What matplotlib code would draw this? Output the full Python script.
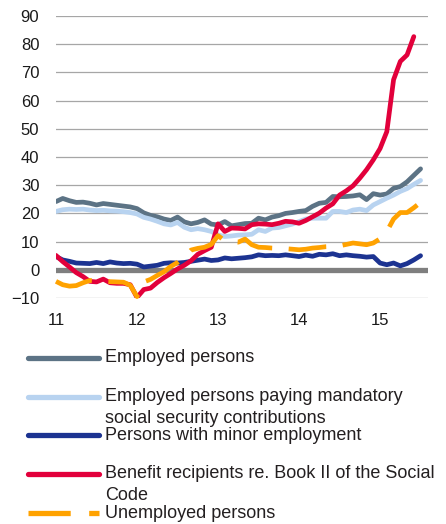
import matplotlib
matplotlib.use('Agg')
import matplotlib.pyplot as plt
from matplotlib.lines import Line2D
import numpy as np

plt.rcParams['font.family'] = ['Liberation Sans', 'DejaVu Sans']

# monthly values, Jan 2011 onwards (% change)
employed = [24.2, 25.3, 24.5, 23.9, 24.0, 23.6, 23.0, 23.5, 23.2, 22.9, 22.6, 22.3,
            21.7, 20.2, 19.3, 18.8, 18.0, 17.5, 18.7, 17.0, 16.3, 16.8, 17.7, 16.2,
            15.9, 17.1, 15.6, 16.0, 16.4, 16.5, 18.3, 17.7, 18.7, 19.2, 20.0, 20.3,
            20.7, 21.0, 22.5, 23.6, 23.9, 26.0, 25.9, 26.0, 26.2, 26.6, 24.9, 27.0,
            26.5, 26.9, 28.9, 29.5, 31.2, 33.5, 35.8]
employed_ssc = [20.7, 21.3, 21.5, 21.4, 21.5, 21.2, 21.0, 21.1, 20.9, 20.8, 20.6, 20.3,
                19.8, 18.6, 18.0, 17.2, 16.3, 15.9, 16.8, 15.1, 14.2, 14.6, 14.2, 13.6,
                12.4, 11.8, 12.0, 12.3, 12.4, 12.6, 14.2, 13.6, 14.8, 15.0, 15.6, 16.2,
                17.1, 18.0, 18.3, 18.3, 18.3, 20.7, 20.7, 20.3, 21.2, 21.5, 21.0, 23.0,
                24.2, 25.4, 26.5, 27.8, 28.8, 30.3, 31.7]
minor = [4.7, 3.5, 3.0, 2.4, 2.3, 2.2, 2.6, 2.2, 2.8, 2.4, 2.2, 2.3,
         2.0, 1.0, 1.3, 1.6, 2.3, 2.5, 2.4, 2.6, 3.0, 3.4, 3.8, 3.3,
         3.5, 4.2, 3.9, 4.1, 4.3, 4.6, 5.3, 5.0, 5.1, 5.0, 5.3, 5.0,
         4.7, 5.2, 4.8, 5.5, 5.3, 5.7, 5.0, 5.3, 5.0, 4.8, 4.5, 4.7,
         2.4, 1.8, 2.4, 1.4, 2.2, 3.5, 5.0]
benefit = [5.1, 2.9, 1.0, -1.0, -2.4, -4.1, -4.3, -3.3, -4.6, -4.8, -4.8, -5.3,
           -9.8, -7.0, -6.5, -4.5, -2.8, -1.3, 0.3, 1.6, 3.2, 5.5, 6.8, 8.0,
           16.3, 13.6, 14.8, 14.7, 14.5, 16.0, 16.3, 16.2, 16.0, 16.5, 17.2, 17.0,
           16.5, 17.5, 18.8, 20.1, 21.9, 23.4, 26.5, 28.0, 29.8, 32.5, 35.5, 39.0,
           43.0, 49.0, 67.4, 73.9, 76.2, 82.7]
unemployed = [-4.1, -5.3, -5.8, -5.6, -4.6, -3.8, -4.0, -4.1, -4.2, -4.3, -4.4, -5.5,
              -9.5, -4.3, -3.4, -2.0, -0.7, 1.2, 2.6, 4.5, 7.0, 7.6, 8.0, 9.0,
              12.1, 10.3, 10.0, 9.8, 10.9, 8.9, 8.0, 7.9, 7.7, 7.6, 7.5, 7.3,
              7.1, 7.3, 7.7, 7.9, 8.2, 8.3, 8.5, 9.0, 9.5, 9.2, 8.9, 9.5,
              11.0, 13.6, 18.0, 20.3, 20.3, 22.0, 23.9, 25.4]

year_ticks = [0, 12, 24, 36, 48]
year_labels = ['11', '12', '13', '14', '15']

labels = ['Employed persons',
          'Employed persons paying mandatory\nsocial security contributions',
          'Persons with minor employment',
          'Benefit recipients re. Book II of the Social\nCode',
          'Unemployed persons']
colors = ['#5c7385', '#b8d3f0', '#1c3391', '#e2003b', '#ffa200']
series = [employed, employed_ssc, minor, benefit, unemployed]

W, H = 446, 524
fig = plt.figure(figsize=(W / 100, H / 100), dpi=100)
ax = fig.add_axes([56 / W, 1 - 298 / H, (428 - 56) / W, (298 - 16) / H])

ax.set_ylim(-10, 90)
ax.set_xlim(0, 55.1)
ax.set_yticks(np.arange(-10, 91, 10))
ax.yaxis.grid(True, color='#a6a6a6', lw=0.9)
ax.set_axisbelow(True)
ax.axhline(0, color='#7f7f7f', lw=3.8, zorder=1.5)

lw = 3.4
for i, (vals, c) in enumerate(zip(series, colors)):
    x = np.arange(len(vals))
    if i == 4:
        ax.plot(x, vals, color=c, lw=lw, dashes=(8, 3.5), clip_on=False, zorder=3)
    else:
        ax.plot(x, vals, color=c, lw=lw, solid_capstyle='round',
                solid_joinstyle='round', zorder=2)

ax.set_xticks(year_ticks)
ax.set_xticklabels(year_labels)
ax.tick_params(axis='both', length=0, labelsize=12, colors='#1a1a1a')
ax.tick_params(axis='x', pad=11)
ax.tick_params(axis='y', pad=12)
for s in ax.spines.values():
    s.set_visible(False)

# legend drawn below the chart
rows = [357.7, 396.7, 435.3, 474, 513.3]
for lab, c, y, i in zip(labels, colors, rows, range(5)):
    yy = 1 - y / H
    if i == 4:
        ln = Line2D([28 / W, 99 / W], [yy, yy], color=c, lw=3.8,
                    dashes=(8, 3.5), transform=fig.transFigure)
    else:
        ln = Line2D([28 / W, 99 / W], [yy, yy], color=c, lw=3.8,
                    solid_capstyle='round', transform=fig.transFigure)
    fig.add_artist(ln)
    for k, part in enumerate(lab.split('\n')):
        fig.text(105 / W, 1 - (y + 22 * k) / H, part, fontsize=13,
                 va='center', ha='left', color='#231f20')

fig.savefig('out.png', dpi=100)
